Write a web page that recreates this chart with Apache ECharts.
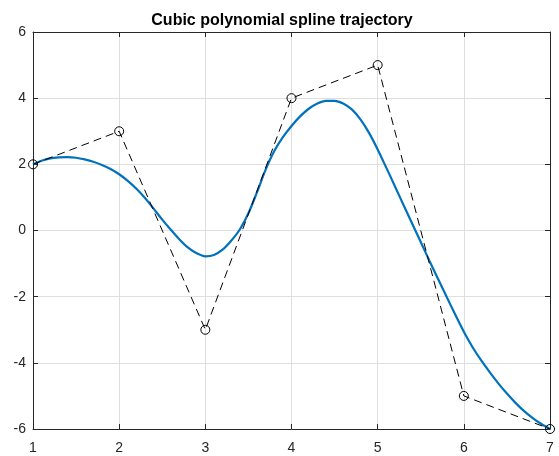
<!DOCTYPE html>
<html>
<head>
<meta charset="utf-8">
<script src="https://cdn.jsdelivr.net/npm/echarts@6/dist/echarts.min.js"></script>
<style>html,body{margin:0;padding:0;background:#fff}#c{width:559px;height:456px}</style>
</head>
<body>
<div id="c"></div>
<script>
const titleText = 'Cubic polynomial spline trajectory';
const ctrlX = [1, 2, 3, 4, 5, 6, 7];
const ctrlY = [2, 3, -3, 4, 5, -5, -6];
const curveX = [1.0, 1.1, 1.2, 1.3, 1.4, 1.5, 1.6, 1.7, 1.8, 1.9,
                2.0, 2.1, 2.2, 2.3, 2.4, 2.5, 2.6, 2.7, 2.8, 2.9,
                3.0, 3.1, 3.2, 3.3, 3.4, 3.5, 3.6, 3.7, 3.8, 3.9,
                4.0, 4.1, 4.2, 4.3, 4.4, 4.5, 4.6, 4.7, 4.8, 4.9,
                5.0, 5.1, 5.2, 5.3, 5.4, 5.5, 5.6, 5.7, 5.8, 5.9,
                6.0, 6.1, 6.2, 6.3, 6.4, 6.5, 6.6, 6.7, 6.8, 6.9, 7.0];
const curveY = [2.00, 2.11, 2.18, 2.21, 2.22, 2.20, 2.15, 2.08, 1.98, 1.86,
                1.70, 1.50, 1.26, 0.98, 0.66, 0.33, 0.02, -0.27, -0.52, -0.69,
                -0.78, -0.74, -0.58, -0.31, 0.03, 0.52, 1.16, 1.84, 2.40, 2.82,
                3.16, 3.45, 3.68, 3.84, 3.92, 3.92, 3.84, 3.66, 3.36, 2.95,
                2.45, 1.90, 1.34, 0.77, 0.21, -0.35, -0.91, -1.46, -2.00, -2.54,
                -3.06, -3.52, -3.92, -4.28, -4.62, -4.93, -5.21, -5.46, -5.67, -5.85, -6.00];
const xTicks = {min: 1, max: 7, step: 1};
const yTicks = {min: -6, max: 6, step: 2};

const font = 'Liberation Sans, Arial, Helvetica, sans-serif';
const chart = echarts.init(document.getElementById('c'), null, {renderer: 'canvas'});
const axisCommon = {
  axisLine: {show: true, onZero: false, lineStyle: {color: '#262626', width: 1}},
  axisTick: {show: true, inside: true, length: 5, lineStyle: {color: '#262626'}},
  splitLine: {show: false}
};
chart.setOption({
  animation: false,
  backgroundColor: '#ffffff',
  title: {
    text: titleText, left: 277, top: 8, textAlign: 'center',
    textStyle: {fontFamily: font, fontSize: 16, fontWeight: 'bold', color: '#000'}
  },
  grid: {left: 33, right: 9, top: 32, bottom: 27, containLabel: false},
  xAxis: [
    Object.assign({}, axisCommon, {
      type: 'value', min: xTicks.min, max: xTicks.max, interval: xTicks.step, position: 'bottom',
      axisLabel: {color: '#262626', fontFamily: font, fontSize: 14, margin: 12},
      splitLine: {show: true, lineStyle: {color: '#dfdfdf', width: 1}}
    }),
    Object.assign({}, axisCommon, {
      type: 'value', min: xTicks.min, max: xTicks.max, interval: xTicks.step, position: 'top',
      axisLabel: {show: false}
    })
  ],
  yAxis: [
    Object.assign({}, axisCommon, {
      type: 'value', min: yTicks.min, max: yTicks.max, interval: yTicks.step, position: 'left',
      axisLabel: {color: '#262626', fontFamily: font, fontSize: 14, margin: 7},
      splitLine: {show: true, lineStyle: {color: '#dfdfdf', width: 1}}
    }),
    Object.assign({}, axisCommon, {
      type: 'value', min: yTicks.min, max: yTicks.max, interval: yTicks.step, position: 'right',
      axisLabel: {show: false}
    })
  ],
  series: [
    {
      type: 'line', name: 'spline', xAxisIndex: 0, yAxisIndex: 0,
      data: curveX.map((x, i) => [x, curveY[i]]),
      smooth: 0.3, showSymbol: false, clip: false,
      lineStyle: {color: '#0072BD', width: 2.2}, z: 3
    },
    {
      type: 'line', name: 'control', xAxisIndex: 0, yAxisIndex: 0,
      data: ctrlX.map((x, i) => [x, ctrlY[i]]),
      symbol: 'circle', symbolSize: 9, showSymbol: true, clip: false,
      itemStyle: {color: 'rgba(255,255,255,0)', borderColor: '#000', borderWidth: 1},
      lineStyle: {color: '#000', width: 1, type: [8, 5]}, z: 4
    }
  ]
});
</script>
</body>
</html>
